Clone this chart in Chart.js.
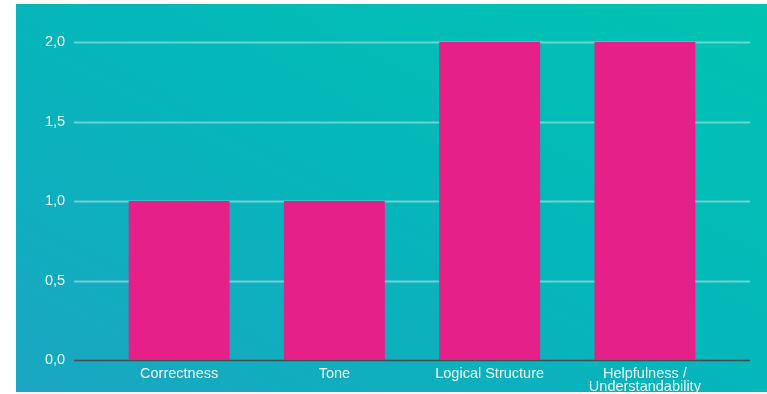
<!DOCTYPE html>
<html>
<head>
<meta charset="utf-8">
<script src="https://cdn.jsdelivr.net/npm/chart.js@4.4.0/dist/chart.umd.min.js"></script>
<style>
    html, body { margin: 0; padding: 0; background: #ffffff; }
    #wrap {
        position: absolute;
        left: 16px; top: 4px;
        width: 751px; height: 388px;
        background: linear-gradient(to top right, #1ba6c2 0%, #05b6bb 50%, #00c3b1 100%);
    }
</style>
</head>
<body>
<div id="wrap"><canvas id="chart" width="751" height="388"></canvas></div>
<script>
const categories = ['Correctness', 'Tone', 'Logical Structure', ['Helpfulness /', 'Understandability']];
const scores = [1, 1, 2, 2];
const yTicks = [0, 0.5, 1, 1.5, 2];

// horizontal lines drawn wider than the plot area, like the original
const gridPlugin = {
    id: 'wideGrid',
    beforeDatasetsDraw(chart) {
        const ctx = chart.ctx;
        const y = chart.scales.y;
        const left = chart.chartArea.left - 27.5;
        const right = chart.chartArea.right + 27.5;
        ctx.save();
        yTicks.forEach(function (t) {
            const py = Math.round(y.getPixelForValue(t)) + 0.5;
            ctx.beginPath();
            ctx.lineWidth = t === 0 ? 1.5 : 2;
            ctx.strokeStyle = t === 0 ? '#3b4f55' : 'rgba(255,255,255,0.4)';
            ctx.moveTo(left, py);
            ctx.lineTo(right, py);
            ctx.stroke();
        });
        ctx.restore();
    }
};

const ctx = document.getElementById('chart').getContext('2d');
new Chart(ctx, {
    type: 'bar',
    data: {
        labels: categories,
        datasets: [{
            data: scores,
            backgroundColor: '#e52189',
            borderWidth: 0,
            barPercentage: 0.65,
            categoryPercentage: 1
        }]
    },
    options: {
        responsive: false,
        animation: false,
        layout: { padding: { top: 38, right: 44.5, left: 29, bottom: 0 } },
        plugins: { legend: { display: false }, tooltip: { enabled: false } },
        scales: {
            x: {
                grid: { display: false, drawTicks: false },
                border: { display: false },
                ticks: {
                    color: 'rgba(255,255,255,0.92)',
                    font: { family: 'Liberation Sans, Arial, sans-serif', size: 14.5, lineHeight: 0.86 },
                    padding: 8,
                    maxRotation: 0,
                    autoSkip: false
                },
                afterFit(scale) { scale.height = 32; }
            },
            y: {
                min: 0,
                max: 2,
                grid: { display: false, drawTicks: false },
                border: { display: false },
                ticks: {
                    stepSize: 0.5,
                    color: 'rgba(255,255,255,0.92)',
                    font: { family: 'Liberation Sans, Arial, sans-serif', size: 14.5 },
                    padding: 0,
                    crossAlign: 'far',
                    callback: function (v) { return v.toFixed(1).replace('.', ','); }
                },
                afterFit(scale) { scale.width = 56.5; }
            }
        }
    },
    plugins: [gridPlugin]
});
</script>
</body>
</html>
